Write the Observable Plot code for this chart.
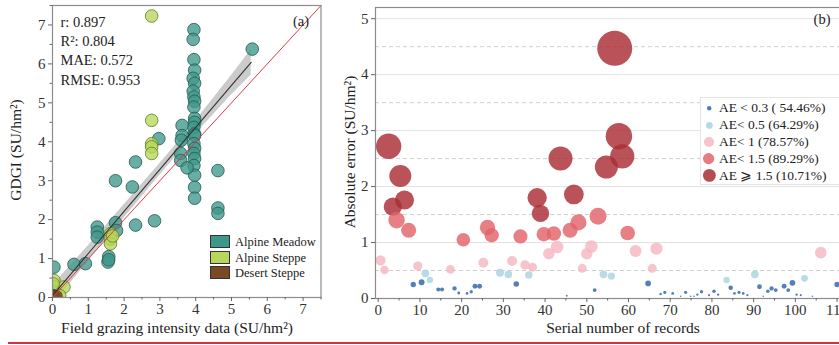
<!DOCTYPE html>
<html><head><meta charset="utf-8">
<script src="https://cdn.jsdelivr.net/npm/d3@7"></script>
<script src="https://cdn.jsdelivr.net/npm/@observablehq/plot@0.6"></script>
<style>
html,body{margin:0;padding:0;background:#fff;overflow:hidden;width:839px;height:345px;}
#wrap{position:relative;width:839px;height:345px;overflow:hidden;font-family:"Liberation Serif",serif;color:#222;}
.abs{position:absolute;white-space:nowrap;}
</style></head><body><div id="wrap"></div>
<script>
// ---------- Panel (a) data ----------
const meadowX = [3.95,3.93,3.95,3.97,3.93,3.97,3.93,3.95,3.97,3.95,3.97,3.97,3.95,3.97,3.97,3.95,3.97,3.95,3.97,3.95,3.97,3.97,3.97,
  3.62,3.62,3.60,3.58,3.58,3.76,
  2.97,4.62,4.62,4.62,5.58,1.76,2.32,2.23,2.85,2.32,1.25,1.25,1.25,1.76,1.79,1.57,1.55,1.57,0.04,0.60,0.92];
const meadowY = [6.88,6.63,6.11,5.84,5.63,5.50,5.30,5.15,5.04,4.89,4.60,4.50,4.37,4.20,4.16,3.95,3.83,3.70,3.57,3.39,3.14,2.83,2.55,
  4.42,4.16,4.04,3.70,3.52,3.33,
  4.08,3.26,2.30,2.16,6.38,3.00,3.48,2.84,1.97,1.86,1.81,1.68,1.55,1.92,1.72,1.05,0.91,0.97,0.78,0.85,0.87];
const steppeX = [2.77,2.77,2.77,2.77,2.77,1.62,1.62,1.62,1.68,0.04,0.04,0.32,0.08,0.20,0.02];
const steppeY = [7.23,4.55,3.95,3.87,3.70,1.64,1.50,1.38,1.58,0.44,0.27,0.27,0.12,0.05,0.35];
const desertX = [0.05,0.00,0.10];
const desertY = [0.00,0.05,0.02];
const typeNames = ["Alpine Meadow","Alpine Steppe","Desert Steppe"];
// fitted regression line and its confidence band
const fitX  = [0.00,1.00,2.00,3.00,3.60,4.00,5.00,5.55];
const fitY  = [0.05,1.13,2.21,3.29,3.94,4.37,5.45,6.04];
const bandLo= [-0.20,0.93,2.04,3.14,3.79,4.20,5.20,5.71];
const bandHi= [0.30,1.33,2.38,3.44,4.09,4.54,5.70,6.37];
const oneToOne = [0, 7.5];
const ticksA = [0,1,2,3,4,5,6,7];
const minorA = [0.5,1.5,2.5,3.5,4.5,5.5,6.5,7.5];
const stats = ["r: 0.897","R²: 0.804","MAE: 0.572","RMSE: 0.953"];

// ---------- Panel (b) data ----------
const recNo = [56.7,2.5,5.3,6.3,3.5,43.7,38.1,38.9,46.9,57.7,54.7,58.5,
  4.4,7.3,20.4,26.2,27.2,34.1,39.7,42.1,46.0,48.0,52.7,59.8,
  0.55,9.5,17.3,25.2,32.1,35.2,37.0,40.9,42.9,48.9,50.0,51.1,61.7,65.7,66.7,106.1,
  1.5,11.3,12.4,29.2,31.2,36.1,54.0,55.9,83.5,90.3,102.2,
  8.4,10.4,14.4,15.3,18.3,19.3,21.3,22.3,23.2,24.3,33.1,45.2,51.9,64.7,67.7,68.7,70.6,72.5,73.7,74.9,75.7,76.5,77.5,79.3,80.5,81.5,84.5,85.4,86.5,87.5,88.5,91.4,92.3,93.4,94.3,95.3,97.3,98.3,99.3,100.3,101.3,104.1,110.0];
const absErr = [4.47,2.72,2.19,1.76,1.64,2.50,1.80,1.52,1.86,2.90,2.35,2.54,
  1.40,1.22,1.05,1.27,1.13,1.11,1.15,1.16,1.22,1.36,1.47,1.17,
  0.68,0.58,0.52,0.64,0.67,0.60,0.56,0.80,0.92,0.54,0.80,0.93,0.85,0.54,0.89,0.82,
  0.51,0.45,0.33,0.46,0.43,0.42,0.43,0.40,0.33,0.43,0.36,
  0.25,0.29,0.16,0.16,0.18,0.10,0.09,0.12,0.22,0.22,0.26,0.05,0.15,0.27,0.08,0.11,0.09,0.04,0.11,0.04,0.04,0.07,0.12,0.06,0.13,0.07,0.19,0.09,0.11,0.09,0.06,0.21,0.04,0.13,0.18,0.15,0.22,0.15,0.28,0.07,0.06,0.04,0.25];
const aeThresholds = [0.3,0.5,1,1.5];
const aeLabels = ["AE < 0.3 ( 54.46%)","AE< 0.5 (64.29%)","AE< 1 (78.57%)","AE< 1.5 (89.29%)","AE ⩾ 1.5 (10.71%)"];
const ticksB = [0,1,2,3,4,5];
const gridSolidB = [1,2,3,4,5];
const gridDashB = [0.5,1.5,2.5,3.5,4.5];
const xTicksB = [0,10,20,30,40,50,60,70,80,90,100,110];
const xMinorB = [5,15,25,35,45,55,65,75,85,95,105];

// ---------- styles ----------
const typeColors = ["#3f978b","#b7d65a","#7a4a26"];
const typeStroke = ["#24584f","#5f7d22","#4a2a12"];
const aeColors = ["#2f63aa","#a9d3e1","#f5b7c3","#e2646a","#a92d34"];
const FONT = "Liberation Serif";
const intFmt = d3.format("d");

const wrap = document.getElementById("wrap");
function addDiv(html, css) {
  const d = document.createElement("div");
  d.className = "abs"; d.innerHTML = html; d.style.cssText += css; wrap.appendChild(d); return d;
}

// ---------- Panel (a) ----------
const pts = [];
meadowX.forEach((x,i)=>pts.push({x, y: meadowY[i], t: 0}));
steppeX.forEach((x,i)=>pts.push({x, y: steppeY[i], t: 1}));
desertX.forEach((x,i)=>pts.push({x, y: desertY[i], t: 2}));
const band = fitX.map((x,i)=>({x, lo: bandLo[i], hi: bandHi[i], y: fitY[i]}));

const left = Plot.plot({
  width: 330, height: 345,
  marginLeft: 52, marginRight: 9.5, marginTop: 5, marginBottom: 48,
  x: {domain: [0, 7.5]}, y: {domain: [0, 7.5]},
  style: {fontFamily: FONT, fontSize: "15px", color: "#333", background: "transparent", overflow: "visible"},
  marks: [
    Plot.areaY(band, {x: "x", y1: "lo", y2: "hi", fill: "#b9b9b9", fillOpacity: 0.75, clip: true}),
    Plot.dot(pts, {x: "x", y: "y", r: 6.3, fill: d => typeColors[d.t], fillOpacity: 0.78, stroke: d => typeStroke[d.t], strokeWidth: 0.8, clip: true}),
    Plot.line(band, {x: "x", y: "y", stroke: "#333", strokeWidth: 1.1}),
    Plot.line(oneToOne.map(v=>({v})), {x: "v", y: "v", stroke: "#e2384a", strokeWidth: 1}),
    Plot.frame({stroke: "#8c8c8c", strokeWidth: 1.2}),
    Plot.axisX({ticks: ticksA, tickFormat: intFmt, tickSize: 4, tickPadding: 2, label: null, stroke: "#666"}),
    Plot.axisX({ticks: minorA, tickSize: 2.5, tickFormat: () => "", label: null, stroke: "#666"}),
    Plot.axisY({ticks: ticksA, tickFormat: intFmt, tickSize: 4, tickPadding: 3, label: null, stroke: "#666"}),
    Plot.axisY({ticks: minorA, tickSize: 2.5, tickFormat: () => "", label: null, stroke: "#666"}),
    Plot.text([stats.join("\n")], {frameAnchor: "top-left", dx: 8, dy: 7.5, textAnchor: "start", lineAnchor: "top", lineHeight: 1.33, fontSize: 14.5, fill: "#222"}),
    Plot.text(["(a)"], {frameAnchor: "top-right", dx: -12, dy: 10, textAnchor: "end", lineAnchor: "top", fontSize: 14.5, fill: "#222"})
  ]
});
left.style.position = "absolute"; left.style.left = "0px"; left.style.top = "0px";
wrap.appendChild(left);

// legend (a)
typeNames.forEach((name, i) => {
  const cy = [242, 257.5, 273][i];
  addDiv("", `left:210px;top:${cy-7}px;width:20px;height:13px;background:${typeColors[i]};border:1px solid #333;box-sizing:border-box;`);
  addDiv(name, `left:235px;top:${cy-8}px;font-size:12.5px;line-height:16px;color:#222;`);
});

// axis titles (a)
addDiv("Field grazing intensity data (SU/hm²)", "left:177px;top:328px;transform:translate(-50%,-50%);font-size:15.5px;color:#222;");
addDiv("GDGI (SU/hm²)", "left:16px;top:150px;transform:translate(-50%,-50%) rotate(-90deg);font-size:15.5px;color:#222;");

// ---------- Panel (b) ----------
const cls = v => aeThresholds.filter(t => v >= t).length;
const recs = recNo.map((x,i)=>({x, y: absErr[i], c: cls(absErr[i])}));

const right = Plot.plot({
  width: 517, height: 345,
  marginLeft: 45, marginRight: 0, marginTop: 7, marginBottom: 47,
  x: {domain: [-0.65, 112.5]}, y: {domain: [0, 5.2]},
  r: {type: "pow", exponent: 0.65, domain: [0, 4.47], range: [0, 17.5]},
  style: {fontFamily: FONT, fontSize: "15px", color: "#333", background: "transparent", overflow: "visible"},
  marks: [
    Plot.ruleY(gridSolidB, {stroke: "#e2e2e2", strokeWidth: 1}),
    Plot.ruleY(gridDashB, {stroke: "#cfcfcf", strokeWidth: 1, strokeDasharray: "4,3"}),
    Plot.dot(recs, {x: "x", y: "y", r: "y", fill: d => aeColors[d.c], fillOpacity: 0.82, stroke: "none"}),
    Plot.frame({stroke: "#8c8c8c", strokeWidth: 1.2}),
    Plot.axisX({ticks: xTicksB, tickFormat: intFmt, tickSize: 4, tickPadding: 2, label: null, stroke: "#666"}),
    Plot.axisX({ticks: xMinorB, tickSize: 2.5, tickFormat: () => "", label: null, stroke: "#666"}),
    Plot.axisY({ticks: ticksB, tickFormat: intFmt, tickSize: 4, tickPadding: 3, label: null, stroke: "#666"}),
    Plot.text(["(b)"], {frameAnchor: "top-right", dx: -17, dy: 6, textAnchor: "end", lineAnchor: "top", fontSize: 14.5, fill: "#222"})
  ]
});
right.style.position = "absolute"; right.style.left = "330px"; right.style.top = "0px";
wrap.appendChild(right);

// legend (b)
const legendR = [2.2, 3.4, 5, 5.6, 6.4];
addDiv("", "left:700px;top:97px;width:150px;height:86px;background:#fff;border:1px solid #e4e4e4;");
aeLabels.forEach((lab, i) => {
  const cy = 108.3 + i * 16.8;
  const r = legendR[i];
  addDiv(`<svg width="${2*r+2}" height="${2*r+2}"><circle cx="${r+1}" cy="${r+1}" r="${r}" fill="${aeColors[i]}" fill-opacity="0.85"/></svg>`,
    `left:${709-r-1}px;top:${cy-r-1}px;line-height:0;`);
  addDiv(lab, `left:719px;top:${cy-9}px;font-size:13.5px;line-height:18px;color:#222;`);
});

// axis titles (b)
addDiv("Serial number of records", "left:623px;top:328px;transform:translate(-50%,-50%);font-size:15.5px;color:#222;");
addDiv("Absolute error (SU/hm²)", "left:350px;top:152px;transform:translate(-50%,-50%) rotate(-90deg);font-size:15.5px;color:#222;");

// red rule at the bottom edge
addDiv("", "left:8px;top:342px;width:831px;height:2px;background:#c8373d;");
</script>
</body></html>
